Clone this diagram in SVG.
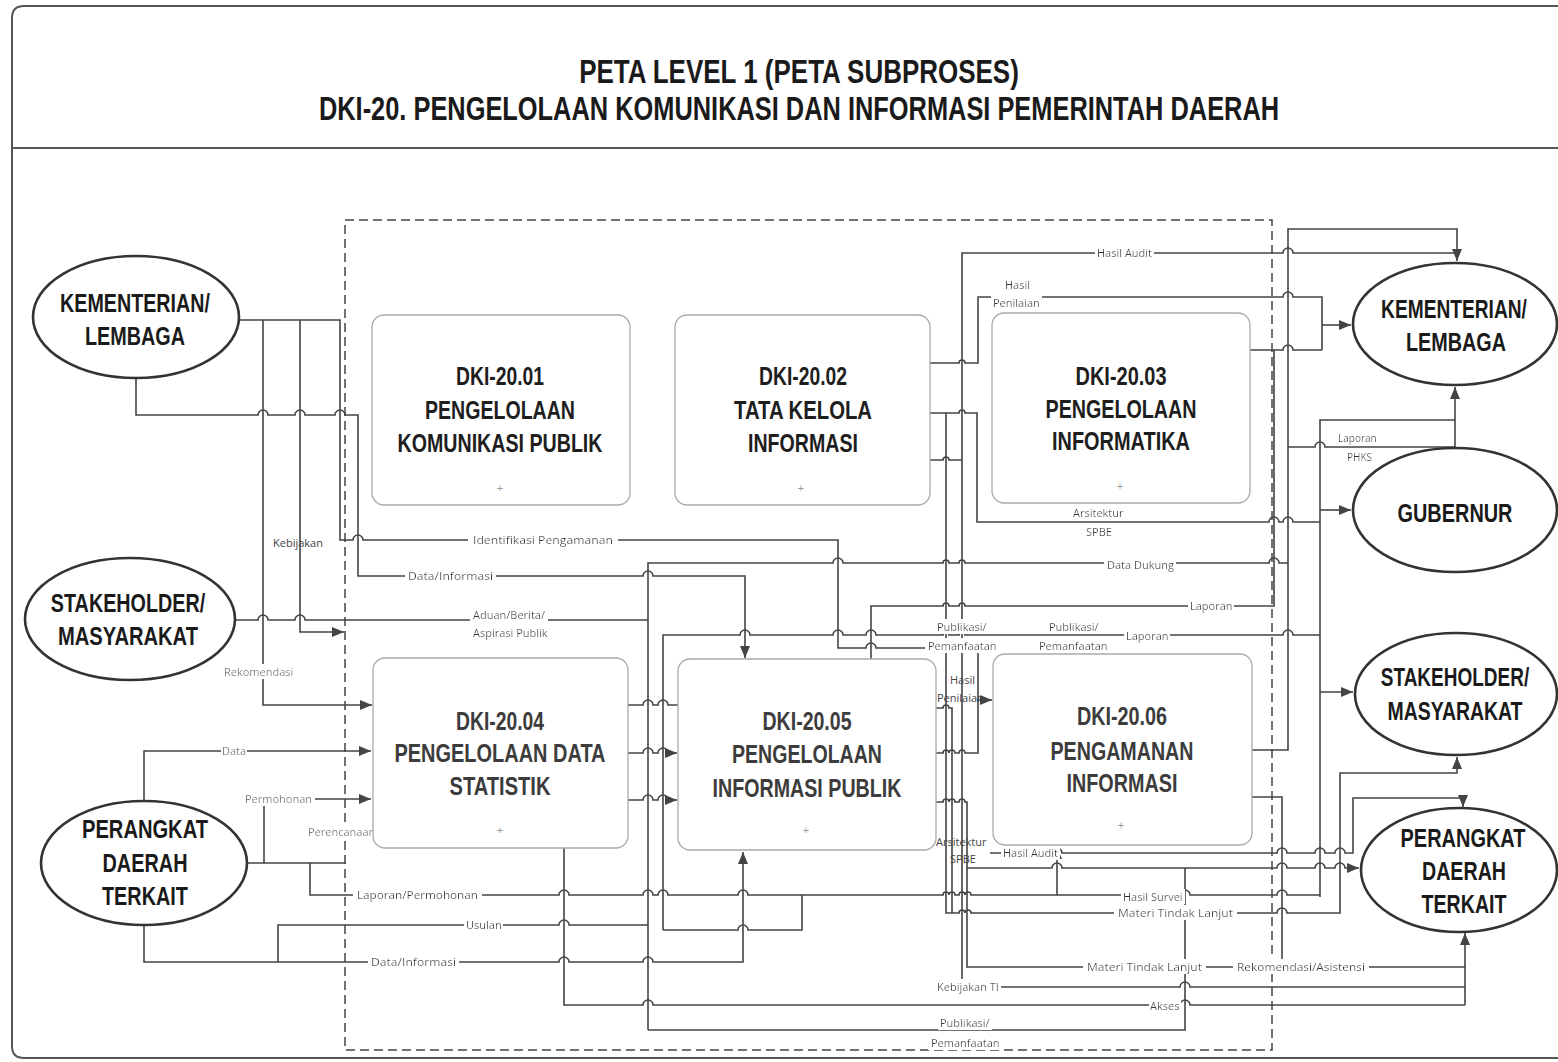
<svg xmlns="http://www.w3.org/2000/svg" width="1558" height="1062" viewBox="0 0 1558 1062">
<style>
.frame{fill:none;stroke:#555;stroke-width:2}
.box{fill:#fff;stroke:#aaa;stroke-width:1.3}
.ell{fill:#fff;stroke:#333;stroke-width:2.6}
.bt{font-family:"Liberation Sans",Arial,sans-serif;font-weight:bold;font-size:25px;text-anchor:middle;fill:#1e1e1e}
.bt2{font-family:"Liberation Sans",Arial,sans-serif;font-weight:bold;font-size:25px;text-anchor:middle;fill:#3c3c3c}
.et{font-family:"Liberation Sans",Arial,sans-serif;font-weight:bold;font-size:25px;text-anchor:middle;fill:#1a1a1a}
.tt{font-family:"Liberation Sans",Arial,sans-serif;font-weight:bold;font-size:34px;text-anchor:middle;fill:#1a1a1a}
.plus{font-family:"Liberation Sans",Arial,sans-serif;font-size:11px;fill:#999;text-anchor:middle}
.c{fill:none;stroke:#444;stroke-width:1.6}
.a{marker-end:url(#ah)}
.l{font-family:"Open Sans","Liberation Sans",sans-serif;font-size:11px;fill:#333;filter:url(#bg)}
.g{font-family:"Open Sans","Liberation Sans",sans-serif;font-size:11px;fill:#777;filter:url(#bg)}
.n{font-family:"Open Sans","Liberation Sans",sans-serif;font-size:11px;fill:#444}
.bd{fill:none;stroke:#444;stroke-width:1.5;stroke-dasharray:9 5}
</style>
<defs>
<marker id="ah" viewBox="0 0 12 10" refX="12" refY="5" markerWidth="12" markerHeight="10" markerUnits="userSpaceOnUse" orient="auto">
<path d="M0,0 L12,5 L0,10 z" fill="#444"/>
</marker>
<filter id="bg" x="-0.03" y="0" width="1.06" height="1">
<feFlood flood-color="#fff"/>
<feComposite in="SourceGraphic" operator="over"/>
</filter>
</defs>
<rect width="1558" height="1062" fill="#fff"/>
<g id="frame">
<path class="frame" d="M1558,6 H24 Q12,6 12,18 V1046 Q12,1058 24,1058 H1558"/>
<line x1="12" y1="148" x2="1558" y2="148" stroke="#555" stroke-width="2"/>
<text class="tt" transform="translate(799,83) scale(0.764,1)">PETA LEVEL 1 (PETA SUBPROSES)</text>
<text class="tt" transform="translate(799,120) scale(0.747,1)">DKI-20. PENGELOLAAN KOMUNIKASI DAN INFORMASI PEMERINTAH DAERAH</text>
</g>
<rect id="boundary" class="bd" x="345" y="220" width="927" height="830"/>

<g id="connectors">
<path class="c a" d="M239,320 H340 V540 H353 a5,5 0 0 1 10,0 H838 V648 H866 a5,5 0 0 1 10,0 H943 a3,3 0 0 1 6,0 H959 a3,3 0 0 1 6,0 H978 V700 H992"/>
<path class="c" d="M936,753 H943 a3,3 0 0 1 6,0 a3,3 0 0 1 6,0 H959 a3,3 0 0 1 6,0 H978 V700"/>
<path class="c a" d="M263,320 V705 H372"/>
<path class="c a" d="M300,320 V632 H344"/>
<path class="c a" d="M136,378 V415 H258 a5,5 0 0 1 10,0 H295 a5,5 0 0 1 10,0 H335 a5,5 0 0 1 10,0 H358 V576 H643 a5,5 0 0 1 10,0 H745 V658"/>
<path class="c" d="M235,620 H258 a5,5 0 0 1 10,0 H295 a5,5 0 0 1 10,0 H648"/>
<path class="c" d="M648,1030 V563 H833 a5,5 0 0 1 10,0 H943 a3,3 0 0 1 6,0 H959 a3,3 0 0 1 6,0 H1269 a5,5 0 0 1 10,0 H1288"/>
<path class="c a" d="M1252,750 H1288 V229 H1457 V261"/>
<path class="c" d="M962,987 V253 H1283 a5,5 0 0 1 10,0 H1457"/>
<path class="c" d="M930,460 H943 a3,3 0 0 1 6,0 H962"/>
<path class="c" d="M962,987 H1180 a5,5 0 0 1 10,0 H1465"/>
<path class="c" d="M930,363 H959 a3,3 0 0 1 6,0 H978 V297 H1283 a5,5 0 0 1 10,0 H1322 V350"/>
<path class="c a" d="M1322,325 H1351"/>
<path class="c" d="M1250,350 H1283 a5,5 0 0 1 10,0 H1322"/>
<path class="c" d="M871,659 V606 H943 a3,3 0 0 1 6,0 H959 a3,3 0 0 1 6,0 H1274 V350"/>
<path class="c" d="M930,413 H959 a3,3 0 0 1 6,0 H977 V522 H1269 a5,5 0 0 1 10,0 H1283 a5,5 0 0 1 10,0 H1320"/>
<path class="c a" d="M946,413 V913 H959 a3,3 0 0 1 6,0 a3,3 0 0 1 6,0 H1180 a5,5 0 0 1 10,0 H1277 a5,5 0 0 1 10,0 H1340 V773 H1457 V757"/>
<path class="c" d="M1320,897 V420 H1455"/>
<path class="c a" d="M1455,448 V387"/>
<path class="c" d="M1288,447 H1315 a5,5 0 0 1 10,0 H1455"/>
<path class="c a" d="M1320,510 H1351"/>
<path class="c a" d="M1320,692 H1353"/>
<path class="c" d="M663,930 V635 H740 a5,5 0 0 1 10,0 H833 a5,5 0 0 1 10,0 H866 a5,5 0 0 1 10,0 H943 a3,3 0 0 1 6,0 H959 a3,3 0 0 1 6,0 H1283 a5,5 0 0 1 10,0 H1320"/>
<path class="c" d="M310,863 V895 H559 a5,5 0 0 1 10,0 H643 a5,5 0 0 1 10,0 H658 a5,5 0 0 1 10,0 H738 a5,5 0 0 1 10,0 H943 a3,3 0 0 1 6,0 a3,3 0 0 1 6,0 H959 a3,3 0 0 1 6,0 a3,3 0 0 1 6,0 H1180 a5,5 0 0 1 10,0 H1277 a5,5 0 0 1 10,0 H1320"/>
<path class="c" d="M802,895 V930 H748 a5,5 0 0 0 -10,0 H663"/>
<path class="c a" d="M144,925 V962 H559 a5,5 0 0 1 10,0 H643 a5,5 0 0 1 10,0 H743 V852"/>
<path class="c" d="M278,962 V925 H559 a5,5 0 0 1 10,0 H648"/>
<path class="c a" d="M144,801 V751 H371"/>
<path class="c" d="M247,863 H346"/>
<path class="c a" d="M264,863 V799 H371"/>
<path class="c" d="M628,705 H643 a5,5 0 0 1 10,0 H658 a5,5 0 0 1 10,0 H678"/>
<path class="c a" d="M628,753 H643 a5,5 0 0 1 10,0 H658 a5,5 0 0 1 10,0 H677"/>
<path class="c a" d="M628,800 H643 a5,5 0 0 1 10,0 H658 a5,5 0 0 1 10,0 H677"/>
<path class="c" d="M564,848 V1005 H643 a5,5 0 0 1 10,0 H1180 a5,5 0 0 1 10,0 H1465"/>
<path class="c" d="M648,1030 H1185 V868"/>
<path class="c" d="M936,802 H943 a3,3 0 0 1 6,0 a3,3 0 0 1 6,0 H959 a3,3 0 0 1 6,0 H967 V967 H1180 a5,5 0 0 1 10,0 H1465"/>
<path class="c a" d="M967,868 H1052 a5,5 0 0 1 10,0 H1277 a5,5 0 0 1 10,0 H1315 a5,5 0 0 1 10,0 H1335 a5,5 0 0 1 10,0 H1359"/>
<path class="c" d="M1252,797 H1282 V967"/>
<path class="c a" d="M990,853 H1052 a5,5 0 0 1 10,0 H1277 a5,5 0 0 1 10,0 H1315 a5,5 0 0 1 10,0 H1335 a5,5 0 0 1 10,0 H1353 V798 H1463 V807"/>
<path class="c a" d="M1057,895 V847"/>
<path class="c" d="M936,708 H943 a3,3 0 0 1 6,0 H952 V913"/>
<path class="c a" d="M1465,1005 V933"/>
</g>

<g id="labels">
<text class="n" x="273" y="547">Kebijakan</text>
<text class="l" x="473" y="544" textLength="140" lengthAdjust="spacingAndGlyphs">Identifikasi Pengamanan</text>
<text class="l" x="408" y="580" textLength="85" lengthAdjust="spacingAndGlyphs">Data/Informasi</text>
<text class="l" x="473" y="619">Aduan/Berita/</text>
<text class="l" x="473" y="637">Aspirasi Publik</text>
<text class="g" x="224" y="676">Rekomendasi</text>
<text class="g" x="222" y="755">Data</text>
<text class="g" x="245" y="803">Permohonan</text>
<text class="g" x="308" y="836">Perencanaan</text>
<text class="l" x="357" y="899" textLength="121" lengthAdjust="spacingAndGlyphs">Laporan/Permohonan</text>
<text class="l" x="466" y="929">Usulan</text>
<text class="l" x="371" y="966" textLength="85" lengthAdjust="spacingAndGlyphs">Data/Informasi</text>
<text class="l" x="1097" y="257">Hasil Audit</text>
<text class="l" x="1005" y="289">Hasil</text>
<text class="l" x="993" y="307">Penilaian</text>
<text class="l" x="1073" y="517">Arsitektur</text>
<text class="l" x="1086" y="536">SPBE</text>
<text class="l" x="1107" y="569">Data Dukung</text>
<text class="l" x="1190" y="610">Laporan</text>
<text class="l" x="937" y="631">Publikasi/</text>
<text class="l" x="928" y="650">Pemanfaatan</text>
<text class="l" x="1049" y="631">Publikasi/</text>
<text class="l" x="1039" y="650">Pemanfaatan</text>
<text class="l" x="1126" y="640">Laporan</text>
<text class="l" x="1338" y="442" style="font-size:10px">Laporan</text>
<text class="l" x="1347" y="461" style="font-size:10px">PHKS</text>
<text class="n" x="950" y="684">Hasil</text>
<text class="n" x="937" y="702">Penilaian</text>
<text class="n" x="936" y="846">Arsitektur</text>
<text class="n" x="950" y="863">SPBE</text>
<text class="l" x="1003" y="857">Hasil Audit</text>
<text class="l" x="1123" y="901">Hasil Survei</text>
<text class="l" x="1118" y="917" textLength="115" lengthAdjust="spacingAndGlyphs">Materi Tindak Lanjut</text>
<text class="l" x="1087" y="971" textLength="115" lengthAdjust="spacingAndGlyphs">Materi Tindak Lanjut</text>
<text class="l" x="1237" y="971" textLength="128" lengthAdjust="spacingAndGlyphs">Rekomendasi/Asistensi</text>
<text class="l" x="937" y="991">Kebijakan TI</text>
<text class="l" x="1150" y="1010">Akses</text>
<text class="l" x="940" y="1027">Publikasi/</text>
<text class="l" x="931" y="1047">Pemanfaatan</text>
</g>

<g id="p2001">
<rect class="box" x="372" y="315" width="258" height="190" rx="12"/>
<text class="bt" x="500" y="385" textLength="88" lengthAdjust="spacingAndGlyphs">DKI-20.01</text>
<text class="bt" x="500" y="419" textLength="150" lengthAdjust="spacingAndGlyphs">PENGELOLAAN</text>
<text class="bt" x="500" y="452" textLength="205" lengthAdjust="spacingAndGlyphs">KOMUNIKASI PUBLIK</text>
<text class="plus" x="500" y="492">+</text>
</g>
<g id="p2002">
<rect class="box" x="675" y="315" width="255" height="190" rx="12"/>
<text class="bt" x="803" y="385" textLength="88" lengthAdjust="spacingAndGlyphs">DKI-20.02</text>
<text class="bt" x="803" y="419" textLength="138" lengthAdjust="spacingAndGlyphs">TATA KELOLA</text>
<text class="bt" x="803" y="452" textLength="110" lengthAdjust="spacingAndGlyphs">INFORMASI</text>
<text class="plus" x="801" y="492">+</text>
</g>
<g id="p2003">
<rect class="box" x="992" y="313" width="258" height="190" rx="12"/>
<text class="bt" x="1121" y="385" textLength="91" lengthAdjust="spacingAndGlyphs">DKI-20.03</text>
<text class="bt" x="1121" y="418" textLength="151" lengthAdjust="spacingAndGlyphs">PENGELOLAAN</text>
<text class="bt" x="1121" y="450" textLength="138" lengthAdjust="spacingAndGlyphs">INFORMATIKA</text>
<text class="plus" x="1120" y="490">+</text>
</g>
<g id="p2004">
<rect class="box" x="373" y="658" width="255" height="190" rx="12"/>
<text class="bt2" x="500" y="730" textLength="88" lengthAdjust="spacingAndGlyphs">DKI-20.04</text>
<text class="bt2" x="500" y="762" textLength="211" lengthAdjust="spacingAndGlyphs">PENGELOLAAN DATA</text>
<text class="bt2" x="500" y="795" textLength="101" lengthAdjust="spacingAndGlyphs">STATISTIK</text>
<text class="plus" x="500" y="834">+</text>
</g>
<g id="p2005">
<rect class="box" x="678" y="659" width="258" height="191" rx="12"/>
<text class="bt2" x="807" y="730" textLength="89" lengthAdjust="spacingAndGlyphs">DKI-20.05</text>
<text class="bt2" x="807" y="763" textLength="150" lengthAdjust="spacingAndGlyphs">PENGELOLAAN</text>
<text class="bt2" x="807" y="797" textLength="189" lengthAdjust="spacingAndGlyphs">INFORMASI PUBLIK</text>
<text class="plus" x="806" y="834">+</text>
</g>
<g id="p2006">
<rect class="box" x="993" y="654" width="259" height="191" rx="12"/>
<text class="bt2" x="1122" y="725" textLength="90" lengthAdjust="spacingAndGlyphs">DKI-20.06</text>
<text class="bt2" x="1122" y="760" textLength="143" lengthAdjust="spacingAndGlyphs">PENGAMANAN</text>
<text class="bt2" x="1122" y="792" textLength="111" lengthAdjust="spacingAndGlyphs">INFORMASI</text>
<text class="plus" x="1121" y="829">+</text>
</g>

<g id="kl-left">
<ellipse class="ell" cx="136" cy="317" rx="103" ry="61"/>
<text class="et" transform="translate(135,312) scale(0.788,1)">KEMENTERIAN/</text>
<text class="et" x="135" y="345" textLength="100" lengthAdjust="spacingAndGlyphs">LEMBAGA</text>
</g>
<g id="sh-left">
<ellipse class="ell" cx="130" cy="619" rx="105" ry="61"/>
<text class="et" transform="translate(128,612) scale(0.79,1)">STAKEHOLDER/</text>
<text class="et" x="128" y="645" textLength="140" lengthAdjust="spacingAndGlyphs">MASYARAKAT</text>
</g>
<g id="pd-left">
<ellipse class="ell" cx="144" cy="863" rx="103" ry="62"/>
<text class="et" x="145" y="838" textLength="126" lengthAdjust="spacingAndGlyphs">PERANGKAT</text>
<text class="et" x="145" y="872" textLength="85" lengthAdjust="spacingAndGlyphs">DAERAH</text>
<text class="et" x="145" y="905" textLength="86" lengthAdjust="spacingAndGlyphs">TERKAIT</text>
</g>
<g id="kl-right">
<ellipse class="ell" cx="1455" cy="324" rx="102" ry="61"/>
<text class="et" transform="translate(1454,318) scale(0.767,1)">KEMENTERIAN/</text>
<text class="et" x="1456" y="351" textLength="100" lengthAdjust="spacingAndGlyphs">LEMBAGA</text>
</g>
<g id="gubernur">
<ellipse class="ell" cx="1455" cy="510" rx="102" ry="62"/>
<text class="et" x="1455" y="522" textLength="115" lengthAdjust="spacingAndGlyphs">GUBERNUR</text>
</g>
<g id="sh-right">
<ellipse class="ell" cx="1456" cy="694" rx="101" ry="61"/>
<text class="et" transform="translate(1455,686) scale(0.76,1)">STAKEHOLDER/</text>
<text class="et" x="1455" y="720" textLength="135" lengthAdjust="spacingAndGlyphs">MASYARAKAT</text>
</g>
<g id="pd-right">
<ellipse class="ell" cx="1459" cy="870" rx="98" ry="62"/>
<text class="et" x="1463" y="847" textLength="125" lengthAdjust="spacingAndGlyphs">PERANGKAT</text>
<text class="et" x="1464" y="880" textLength="84" lengthAdjust="spacingAndGlyphs">DAERAH</text>
<text class="et" x="1464" y="913" textLength="85" lengthAdjust="spacingAndGlyphs">TERKAIT</text>
</g>
</svg>
